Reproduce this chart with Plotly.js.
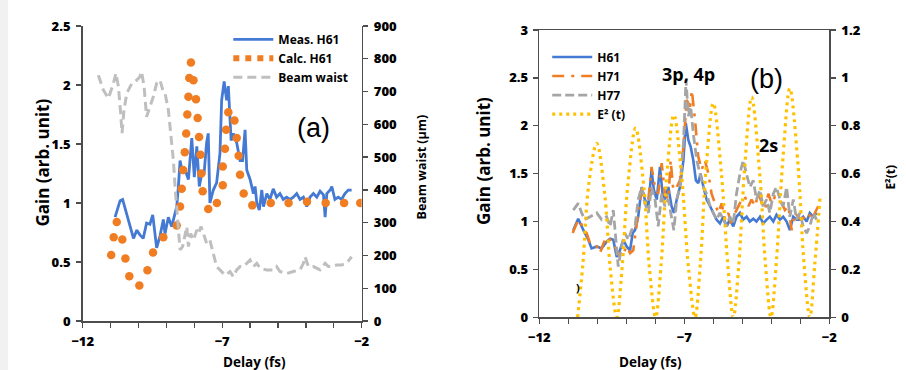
<!DOCTYPE html>
<html>
<head>
<meta charset="utf-8">
<script src="https://cdn.plot.ly/plotly-3.0.1.min.js"></script>
<style>html,body{margin:0;padding:0;background:#fff;}#chart{width:906px;height:370px;}</style>
</head>
<body>
<div id="chart"></div>
<script>
// ---------- Panel (a) ----------
const aMeasX = [-10.84,-10.66,-10.57,-10.42,-10.24,-10.18,-10.06,-9.95,-9.83,-9.71,-9.59,-9.49,-9.41,-9.35,-9.23,-9.11,-9.05,-8.93,-8.81,-8.75,-8.63,-8.57,-8.51,-8.42,-8.33,-8.21,-8.09,-8.00,-7.91,-7.82,-7.73,-7.65,-7.56,-7.50,-7.44,-7.32,-7.20,-7.08,-7.02,-6.93,-6.84,-6.78,-6.68,-6.60,-6.48,-6.36,-6.27,-6.18,-6.12,-6.00,-5.88,-5.82,-5.76,-5.67,-5.58,-5.52,-5.40,-5.29,-5.17,-5.05,-4.93,-4.81,-4.69,-4.57,-4.45,-4.33,-4.21,-4.09,-3.97,-3.85,-3.73,-3.61,-3.49,-3.37,-3.31,-3.25,-3.13,-3.07,-2.96,-2.84,-2.72,-2.60,-2.48,-2.36];
const aMeasY = [0.88,1.02,1.03,0.91,0.77,0.70,0.77,0.73,0.70,0.83,0.82,0.90,0.74,0.62,0.72,0.86,0.74,0.88,0.80,0.86,0.97,1.14,1.36,1.25,1.28,1.20,1.55,1.22,1.48,1.14,1.25,1.25,1.51,1.59,1.00,1.11,1.17,1.42,1.87,2.03,1.87,1.99,1.53,1.59,1.51,1.36,1.36,1.62,1.28,1.20,1.08,1.14,1.00,0.94,1.11,0.97,1.08,1.03,1.12,1.05,1.08,1.03,1.05,1.03,1.05,1.08,1.03,1.05,0.97,1.05,1.08,1.05,1.10,1.07,0.88,1.08,1.11,1.14,1.03,1.05,1.03,1.08,1.11,1.11];

const aCalcX = [-10.98,-10.89,-10.78,-10.58,-10.47,-10.33,-9.97,-9.68,-9.48,-9.11,-8.63,-8.51,-8.45,-8.40,-8.34,-8.29,-8.25,-8.21,-8.18,-8.12,-8.03,-7.94,-7.88,-7.83,-7.78,-7.75,-7.70,-7.50,-7.19,-6.98,-6.98,-6.90,-6.86,-6.78,-6.56,-6.48,-6.41,-6.36,-6.23,-5.92,-5.26,-4.62,-3.96,-3.29,-2.63,-2.05];
const aCalcY = [0.56,0.71,0.84,0.69,0.53,0.38,0.30,0.43,0.58,0.71,0.81,0.97,1.12,1.28,1.43,1.59,1.75,1.90,2.06,2.19,2.04,1.88,1.72,1.56,1.41,1.25,1.10,0.95,1.00,1.15,1.31,1.46,1.62,1.77,1.70,1.55,1.40,1.24,1.08,0.98,1.00,1.00,1.01,1.00,1.00,1.00];

const aWaistX = [-11.44,-11.26,-11.08,-10.90,-10.81,-10.72,-10.64,-10.59,-10.52,-10.42,-10.24,-10.06,-9.95,-9.89,-9.80,-9.71,-9.59,-9.47,-9.35,-9.23,-9.13,-9.05,-8.93,-8.81,-8.75,-8.69,-8.63,-8.57,-8.51,-8.42,-8.33,-8.27,-8.21,-8.13,-8.03,-7.91,-7.85,-7.76,-7.67,-7.56,-7.44,-7.32,-7.20,-7.08,-6.90,-6.72,-6.60,-6.48,-6.36,-6.24,-6.12,-6.00,-5.88,-5.76,-5.64,-5.41,-5.17,-5.05,-4.93,-4.69,-4.45,-4.21,-4.09,-4.03,-3.91,-3.73,-3.49,-3.31,-3.19,-3.08,-2.90,-2.72,-2.54,-2.36];
const aWaistY = [750,705,679,725,756,715,634,573,644,695,725,735,745,761,715,623,654,684,725,735,705,695,644,552,491,410,349,267,217,227,267,288,227,267,247,278,267,288,267,237,247,206,166,156,140,151,135,156,166,166,176,186,166,176,161,156,156,166,151,145,151,156,176,196,166,166,156,176,166,166,171,171,176,196];

// ---------- Panel (b) ----------
const bH61X = [-10.83,-10.66,-10.48,-10.31,-10.20,-10.02,-9.85,-9.68,-9.56,-9.45,-9.33,-9.22,-9.10,-8.99,-8.87,-8.78,-8.70,-8.59,-8.47,-8.36,-8.24,-8.13,-8.05,-7.95,-7.84,-7.75,-7.67,-7.55,-7.44,-7.36,-7.26,-7.15,-7.03,-6.95,-6.86,-6.78,-6.69,-6.60,-6.52,-6.44,-6.34,-6.23,-6.11,-6.00,-5.89,-5.77,-5.66,-5.54,-5.43,-5.31,-5.20,-5.08,-4.97,-4.85,-4.74,-4.62,-4.51,-4.39,-4.28,-4.16,-4.05,-3.93,-3.82,-3.70,-3.59,-3.47,-3.36,-3.24,-3.13,-3.01,-2.90,-2.78,-2.67,-2.55,-2.44];
const bH61Y = [0.91,1.03,0.91,0.81,0.72,0.74,0.72,0.79,0.82,0.81,0.63,0.70,0.81,0.74,0.70,0.88,0.91,1.05,1.36,1.23,1.16,1.54,1.33,1.23,1.57,1.29,1.23,1.36,1.16,1.09,1.23,1.36,1.64,2.03,1.85,1.78,1.64,1.43,1.40,1.50,1.36,1.23,1.16,1.09,1.02,0.98,1.05,0.95,1.02,0.95,1.05,1.09,1.02,1.05,1.00,1.03,1.00,1.05,0.98,1.02,1.05,1.00,1.07,1.02,1.05,1.00,0.91,1.05,1.02,1.02,1.05,1.00,1.09,1.05,1.09];

const bH71X = [-10.85,-10.71,-10.60,-10.48,-10.37,-10.25,-10.02,-9.91,-9.79,-9.68,-9.56,-9.45,-9.33,-9.22,-9.10,-8.99,-8.87,-8.76,-8.59,-8.47,-8.36,-8.24,-8.13,-8.01,-7.90,-7.78,-7.67,-7.55,-7.47,-7.38,-7.26,-7.15,-7.03,-6.92,-6.80,-6.74,-6.63,-6.52,-6.40,-6.29,-6.17,-6.06,-5.94,-5.83,-5.71,-5.60,-5.48,-5.37,-5.25,-5.14,-5.02,-4.91,-4.79,-4.68,-4.56,-4.45,-4.33,-4.22,-4.10,-3.99,-3.87,-3.76,-3.64,-3.53,-3.41,-3.30,-3.18,-3.07,-2.95,-2.84,-2.72,-2.61,-2.49,-2.38];
const bH71Y = [0.88,0.98,1.02,0.91,0.88,0.77,0.74,0.67,0.77,0.84,0.81,0.77,0.70,0.63,0.67,0.74,0.67,0.70,1.09,1.36,1.23,1.23,1.57,1.36,1.29,1.61,1.29,1.23,1.64,1.33,1.36,1.43,1.78,2.27,2.20,2.37,2.06,1.68,1.54,1.64,1.50,1.29,1.19,1.09,1.19,1.02,1.09,0.95,1.09,1.16,1.23,1.26,1.16,1.23,1.16,1.29,1.19,1.12,1.29,1.19,1.26,1.23,1.19,1.12,1.16,0.91,1.09,1.05,1.02,1.05,1.09,1.02,1.09,1.16];

const bH77X = [-10.83,-10.66,-10.54,-10.43,-10.25,-10.02,-9.85,-9.68,-9.56,-9.45,-9.36,-9.28,-9.16,-9.05,-8.93,-8.82,-8.70,-8.59,-8.47,-8.36,-8.24,-8.13,-8.01,-7.90,-7.78,-7.67,-7.55,-7.44,-7.36,-7.26,-7.15,-7.03,-6.94,-6.86,-6.78,-6.69,-6.57,-6.46,-6.34,-6.23,-6.11,-6.00,-5.89,-5.77,-5.66,-5.54,-5.43,-5.31,-5.20,-5.08,-4.97,-4.85,-4.74,-4.62,-4.51,-4.39,-4.28,-4.16,-4.05,-3.93,-3.82,-3.70,-3.59,-3.47,-3.36,-3.24,-3.13,-3.01,-2.90,-2.78,-2.67,-2.55,-2.44];
const bH77Y = [1.12,1.19,1.09,1.02,1.05,1.09,1.02,1.05,0.95,1.12,0.81,0.53,0.74,0.88,0.81,0.91,0.95,1.23,1.36,1.19,1.09,1.36,1.23,0.95,1.29,1.16,1.23,1.02,0.91,1.23,1.36,1.82,2.48,2.10,2.20,1.92,1.64,1.50,1.36,1.29,1.16,1.09,1.02,1.09,1.02,0.95,1.05,0.98,1.29,1.50,1.64,1.50,1.36,1.43,1.23,1.33,1.16,1.23,1.09,1.29,1.36,1.23,1.16,1.36,1.05,1.23,1.02,1.09,0.95,0.88,0.95,1.09,1.02];

const bE2X = [-10.68,-10.50,-10.30,-10.02,-9.75,-9.55,-9.33,-9.15,-8.95,-8.68,-8.40,-8.20,-7.99,-7.80,-7.60,-7.36,-7.10,-6.85,-6.63,-6.45,-6.25,-6.00,-5.72,-5.50,-5.31,-5.12,-4.92,-4.68,-4.40,-4.20,-4.01,-3.82,-3.60,-3.36,-3.08,-2.88,-2.67,-2.50,-2.32];
const bE2Y = [0.00,0.22,0.55,0.727,0.52,0.20,0.00,0.20,0.55,0.79,0.55,0.20,0.00,0.22,0.60,0.845,0.60,0.20,0.00,0.22,0.62,0.894,0.60,0.22,0.00,0.22,0.62,0.92,0.60,0.22,0.00,0.24,0.66,0.956,0.64,0.24,0.00,0.22,0.50];

const xTickVals = [-12,-7,-2];

const BLUE = '#4479D4', ORANGE = '#F07D22', GRAY = '#A5A5A5', LGRAY = '#BFBFBF', YELLOW = '#FFC000';
const FONT = '"Open Sans", "Noto Sans", sans-serif';
const AX = '#4d4d4d';

const traces = [
  {x:aMeasX, y:aMeasY, xaxis:'x', yaxis:'y', mode:'lines', name:'Meas. H61', line:{color:BLUE, width:2.8}, legend:'legend'},
  {x:aCalcX, y:aCalcY, xaxis:'x', yaxis:'y', mode:'markers', name:'Calc. H61', marker:{color:ORANGE, size:8.5}, showlegend:false, legend:'legend'},
  {x:[null], y:[null], xaxis:'x', yaxis:'y', mode:'lines', name:'Calc. H61', line:{color:ORANGE, width:6, dash:'6px,6px'}, legend:'legend'},
  {x:aWaistX, y:aWaistY, xaxis:'x', yaxis:'y2', mode:'lines', name:'Beam waist', line:{color:LGRAY, width:3, dash:'9px,5px'}, legend:'legend'},

  {x:bH61X, y:bH61Y, xaxis:'x2', yaxis:'y3', mode:'lines', name:'H61', line:{color:BLUE, width:2.6}, legend:'legend2'},
  {x:bH71X, y:bH71Y, xaxis:'x2', yaxis:'y3', mode:'lines', name:'H71', line:{color:ORANGE, width:2.6, dash:'12px,7px,3px,7px'}, legend:'legend2'},
  {x:bH77X, y:bH77Y, xaxis:'x2', yaxis:'y3', mode:'lines', name:'H77', line:{color:GRAY, width:2.8, dash:'9px,4px'}, legend:'legend2'},
  {x:bE2X, y:bE2Y, xaxis:'x2', yaxis:'y4', mode:'lines', line:{color:YELLOW, width:3.2, dash:'3px,4px', shape:'spline', smoothing:1}, name:'E² (t)', legend:'legend2'}
];

const tickFont = {family:FONT, size:13, color:'#000', weight:800};
const baseAxis = {showgrid:false, zeroline:false, showline:true, linecolor:AX, linewidth:1.5, ticks:'outside', ticklen:5, tickwidth:1.3, tickcolor:AX, tickfont:tickFont, fixedrange:true};

const layout = {
  width:906, height:370,
  margin:{l:0, r:0, t:0, b:0},
  paper_bgcolor:'#ffffff', plot_bgcolor:'rgba(0,0,0,0)',
  font:{family:FONT, color:'#000'},
  xaxis:Object.assign({}, baseAxis, {domain:[0.0913,0.3992], range:[-12,-2], anchor:'y', tickvals:xTickVals, ticklabelstandoff:3, minor:{dtick:1, ticks:'outside', ticklen:5, tickcolor:AX, tickwidth:1.3}}),
  yaxis:Object.assign({}, baseAxis, {domain:[0.1324,0.9297], range:[0,2.5], dtick:0.5, anchor:'x', ticklabelstandoff:3}),
  yaxis2:Object.assign({}, baseAxis, {overlaying:'y', side:'right', range:[0,900], dtick:100, anchor:'x', ticklabelstandoff:3}),
  xaxis2:Object.assign({}, baseAxis, {domain:[0.5953,0.9153], range:[-12,-2], anchor:'y3', mirror:true, tickvals:xTickVals, ticklabelstandoff:3, minor:{dtick:1, ticks:'outside', ticklen:5, tickcolor:AX, tickwidth:1.3}}),
  yaxis3:Object.assign({}, baseAxis, {domain:[0.1424,0.9189], range:[0,3], dtick:0.5, anchor:'x2', ticklabelstandoff:2}),
  yaxis4:Object.assign({}, baseAxis, {overlaying:'y3', side:'right', range:[0,1.2], dtick:0.2, anchor:'x2', ticklabelstandoff:3}),
  legend:{x:0.252, y:0.933, xanchor:'left', yanchor:'top', bgcolor:'rgba(0,0,0,0)', font:{family:FONT, size:12, weight:'bold', color:'#000'}, itemwidth:40, tracegroupgap:0},
  legend2:{x:0.604, y:0.885, xanchor:'left', yanchor:'top', bgcolor:'rgba(0,0,0,0)', font:{family:FONT, size:12, weight:'bold', color:'#000'}, itemwidth:40, tracegroupgap:0},
  shapes:[
    {type:'rect', xref:'paper', yref:'paper', x0:0, x1:0.009, y0:0, y1:1, fillcolor:'#f1f1f1', line:{width:0}, layer:'below'}
  ],
  annotations:[
    {text:'Gain (arb. unit)', xref:'paper', yref:'paper', x:0.032, y:0.562, textangle:-90, showarrow:false, font:{family:FONT, size:17, weight:'bold', color:'#000'}},
    {text:'Beam waist (μm)', xref:'paper', yref:'paper', x:0.4652, y:0.5486, textangle:-90, showarrow:false, font:{family:FONT, size:12.5, weight:'bold', color:'#000'}},
    {text:'Delay (fs)', xref:'paper', yref:'paper', x:0.2439, y:0.022, yanchor:'middle', showarrow:false, font:{family:FONT, size:13.5, weight:'bold', color:'#000'}},
    {text:'Gain (arb. unit)', xref:'paper', yref:'paper', x:0.5342, y:0.565, textangle:-90, showarrow:false, font:{family:FONT, size:17, weight:'bold', color:'#000'}},
    {text:'E²(t)', xref:'paper', yref:'paper', x:0.9935, y:0.5216, textangle:-90, showarrow:false, font:{family:FONT, size:12, weight:'bold', color:'#000'}},
    {text:'Delay (fs)', xref:'paper', yref:'paper', x:0.755, y:0.022, yanchor:'middle', showarrow:false, font:{family:FONT, size:13.5, weight:'bold', color:'#000'}},
    {text:'(a)', xref:'paper', yref:'paper', x:0.3455, y:0.654, showarrow:false, font:{family:'Liberation Sans, Arial, sans-serif', size:27, color:'#000'}},
    {text:'(b)', xref:'paper', yref:'paper', x:0.8664, y:0.8324, showarrow:false, font:{family:'Liberation Sans, Arial, sans-serif', size:27, color:'#000'}},
    {text:'3p, 4p', xref:'paper', yref:'paper', x:0.791, y:0.838, showarrow:false, font:{family:FONT, size:18, weight:'bold', color:'#000'}},
    {text:'2s', xref:'paper', yref:'paper', x:0.861, y:0.608, showarrow:false, font:{family:FONT, size:18, weight:'bold', color:'#000'}},
    {text:')', xref:'paper', yref:'paper', x:0.638, y:0.197, showarrow:false, font:{family:FONT, size:11, weight:'bold', color:'#000'}}
  ]
};

Plotly.newPlot('chart', traces, layout, {displayModeBar:false, staticPlot:true});
</script>
</body>
</html>
